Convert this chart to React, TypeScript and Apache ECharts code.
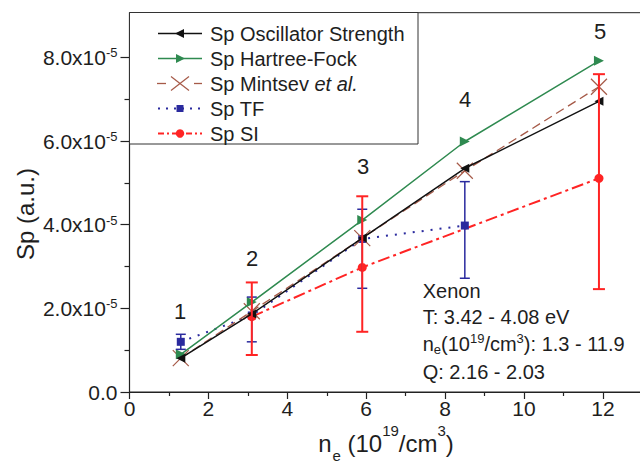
import { useEffect, useRef } from 'react';
import * as echarts from 'echarts';

// ---- data (Sp in units of 1e-5 a.u., n_e in 1e19 cm^-3) ----
const pointLabels = ['1', '2', '3', '4', '5'];
const electronDensity = [1.3, 3.1, 5.9, 8.5, 11.9];
const spOscillatorStrength = [0.81, 1.87, 3.68, 5.35, 6.95];
const spHartreeFock = [0.9, 2.15, 4.11, 5.99, 7.92];
const spMintsev = [0.81, 1.93, 3.68, 5.29, 7.3];
const spTF: (number | null)[] = [1.2, 1.83, 3.66, 3.98, null];
const spTFLow: (number | null)[] = [1.02, 1.2, 2.48, 2.72, null];
const spTFHigh: (number | null)[] = [1.38, 2.27, 4.37, 5.03, null];
const spSI: (number | null)[] = [null, 1.8, 2.98, null, 5.11];
const spSILow: (number | null)[] = [null, 0.885, 1.44, null, 2.46];
const spSIHigh: (number | null)[] = [null, 2.62, 4.68, null, 7.6];
const yMajorTicks = [0, 2, 4, 6, 8];
const yMinorTicks = [1, 3, 5, 7];
const seriesNames = ['Sp Oscillator Strength', 'Sp Hartree-Fock', 'Sp Mintsev et al.', 'Sp TF', 'Sp SI'];
const annotationLines = [
  '{m|Xenon}',
  '{m|T: 3.42 - 4.08 eV}',
  '{m|n}{sub|e}{m|(10}{sup|19}{m|/cm}{sup|3}{m|): 1.3 - 11.9}',
  '{m|Q: 2.16 - 2.03}',
];

const FONT = '"Liberation Sans", Arial, Helvetica, sans-serif';
const TEXT = '#1e1e1e';
const BLACK = '#111111';
const GREEN = '#2f8a50';
const BROWN = '#a65a48';
const BLUE = '#2a2a9e';
const RED = '#ff2424';
const Y_MAX = 9.07;
const X_MAX = 14;

const toPoints = (vals: (number | null)[]) =>
  electronDensity.map((x, i) => [x, vals[i]]).filter((p) => p[1] != null);

const errorBars = (lows: (number | null)[], highs: (number | null)[], color: string, width: number, cap: number, z: number) => ({
  type: 'custom',
  silent: true,
  z,
  xAxisIndex: 0,
  yAxisIndex: 0,
  data: electronDensity.map((x, i) => [x, lows[i], highs[i]]).filter((d) => d[1] != null),
  encode: { x: 0, y: [1, 2] },
  renderItem: (_p: any, api: any) => {
    const x = api.value(0);
    const a = api.coord([x, api.value(1)]);
    const b = api.coord([x, api.value(2)]);
    const st = { stroke: color, lineWidth: width };
    return {
      type: 'group',
      children: [
        { type: 'line', shape: { x1: a[0], y1: a[1], x2: b[0], y2: b[1] }, style: st },
        { type: 'line', shape: { x1: a[0] - cap, y1: a[1], x2: a[0] + cap, y2: a[1] }, style: st },
        { type: 'line', shape: { x1: b[0] - cap, y1: b[1], x2: b[0] + cap, y2: b[1] }, style: st },
      ],
    };
  },
});

const X_PATH = 'path://M0,0L10,10M10,0L0,10';

function buildLegend() {
  const els: any[] = [];
  const z = 100;
  els.push({ type: 'rect', z, shape: { x: 129.5, y: 12.5, width: 288.5, height: 131.5 }, style: { fill: '#fff', stroke: '#333', lineWidth: 1 } });
  const ry = (i: number) => 33.5 + 25 * i;
  const line = (y: number, color: string, w: number, dash?: number[], x1 = 158, x2 = 202) => ({
    type: 'line', z: z + 1, shape: { x1, y1: y, x2, y2: y }, style: { stroke: color, lineWidth: w, lineDash: dash },
  });
  const text = (i: number, t: string) => ({
    type: 'text', z: z + 1, x: 210, y: ry(i),
    style: {
      text: t, fontSize: 20, fontFamily: FONT, fill: TEXT, align: 'left', verticalAlign: 'middle',
      rich: {
        n: { fontSize: 20, fontFamily: FONT, fill: TEXT },
        i: { fontSize: 20, fontFamily: FONT, fill: TEXT, fontStyle: 'italic' },
      },
    },
  });
  let y = ry(0);
  els.push(line(y, BLACK, 1.5));
  els.push({ type: 'polygon', z: z + 2, shape: { points: [[175, y], [184, y - 4.5], [184, y + 4.5]] }, style: { fill: BLACK } });
  els.push(text(0, seriesNames[0]));
  y = ry(1);
  els.push(line(y, GREEN, 1.5));
  els.push({ type: 'polygon', z: z + 2, shape: { points: [[185, y], [176, y - 4.5], [176, y + 4.5]] }, style: { fill: GREEN } });
  els.push(text(1, seriesNames[1]));
  y = ry(2);
  els.push(line(y, BROWN, 1.3, undefined, 157, 166));
  els.push(line(y, BROWN, 1.3, undefined, 194, 202));
  els.push({ type: 'line', z: z + 2, shape: { x1: 171, y1: y - 7, x2: 189, y2: y + 7 }, style: { stroke: BROWN, lineWidth: 1.2 } });
  els.push({ type: 'line', z: z + 2, shape: { x1: 171, y1: y + 7, x2: 189, y2: y - 7 }, style: { stroke: BROWN, lineWidth: 1.2 } });
  els.push(text(2, '{n|Sp Mintsev }{i|et al.}'));
  y = ry(3);
  els.push(line(y, BLUE, 2, [2, 6]));
  els.push({ type: 'rect', z: z + 2, shape: { x: 176.5, y: y - 3.5, width: 7, height: 7 }, style: { fill: BLUE } });
  els.push(text(3, seriesNames[3]));
  y = ry(4);
  els.push(line(y, RED, 1.8, [6, 3, 2, 3]));
  els.push({ type: 'circle', z: z + 2, shape: { cx: 180, cy: y, r: 4.2 }, style: { fill: RED } });
  els.push(text(4, seriesNames[4]));
  return els;
}

function buildAnnotations() {
  const rich = {
    m: { fontSize: 20, fontFamily: FONT, fill: TEXT, lineHeight: 24 },
    sub: { fontSize: 13, fontFamily: FONT, fill: TEXT, lineHeight: 12, verticalAlign: 'bottom' },
    sup: { fontSize: 13, fontFamily: FONT, fill: TEXT, lineHeight: 12, verticalAlign: 'top' },
  };
  const ys = [291, 317, 344, 372];
  const els: any[] = annotationLines.map((t, i) => ({
    type: 'text', x: 422.7, y: ys[i], z: 50,
    style: { text: t, rich, align: 'left', verticalAlign: 'middle', fontFamily: FONT, fontSize: 20, fill: TEXT },
  }));
  const labelPos = [[180, 311], [252, 258], [363, 166], [465, 99], [600, 31]];
  pointLabels.forEach((l, i) => {
    els.push({
      type: 'text', x: labelPos[i][0], y: labelPos[i][1], z: 50,
      style: { text: l, fontSize: 22, fontFamily: FONT, fill: TEXT, align: 'center', verticalAlign: 'middle' },
    });
  });
  els.push({
    type: 'text', x: 25, y: 214, rotation: Math.PI / 2, z: 50,
    style: { text: 'Sp (a.u.)', fontSize: 24, fontFamily: FONT, fill: TEXT, align: 'center', verticalAlign: 'middle' },
  });
  els.push({
    type: 'text', x: 386, y: 443, z: 50,
    style: {
      text: '{m|n}{sub|e}{m| (10}{sup|19}{m|/cm}{sup|3}{m|)}',
      align: 'center', verticalAlign: 'middle', fontFamily: FONT, fontSize: 24, fill: TEXT,
      rich: {
        m: { fontSize: 24, fontFamily: FONT, fill: TEXT, lineHeight: 40 },
        sub: { fontSize: 15, fontFamily: FONT, fill: TEXT, lineHeight: 8, verticalAlign: 'bottom', padding: [0, 0, 0, 1] },
        sup: { fontSize: 15, fontFamily: FONT, fill: TEXT, lineHeight: 26, verticalAlign: 'top' },
      },
    },
  });
  return els;
}

export default function App() {
  const ref = useRef<HTMLDivElement>(null);
  useEffect(() => {
    if (!ref.current) return;
    const chart = echarts.init(ref.current, undefined, { renderer: 'svg' });
    const axisLineStyle = { color: '#222', width: 1.2 };
    const option: any = {
      animation: false,
      backgroundColor: '#fff',
      textStyle: { fontFamily: FONT },
      grid: {
        left: 129.5, top: 12.7, width: 552.3, height: 379.3,
        show: true, borderColor: '#222', borderWidth: 1,
        containLabel: false, outerBoundsMode: 'none',
      },
      xAxis: {
        type: 'value', min: 0, max: X_MAX, interval: 2,
        axisLine: { show: true, lineStyle: axisLineStyle },
        axisTick: { show: true, length: 7, lineStyle: axisLineStyle },
        minorTick: { show: true, splitNumber: 2, length: 4, lineStyle: axisLineStyle },
        axisLabel: {
          fontSize: 21, color: TEXT, fontFamily: FONT, margin: 6, showMaxLabel: false,
          formatter: (v: number) => (v >= X_MAX ? '' : String(v)),
        },
        splitLine: { show: false },
        minorSplitLine: { show: false },
      },
      yAxis: [
        {
          type: 'value', min: 0, max: Y_MAX, interval: 1,
          axisLine: { show: true, lineStyle: axisLineStyle },
          axisTick: { show: true, length: 5, lineStyle: axisLineStyle, customValues: yMinorTicks },
          axisLabel: { show: false },
          splitLine: { show: false },
        },
        {
          type: 'value', min: 0, max: Y_MAX, interval: 2, position: 'left', offset: 0,
          axisLine: { show: false },
          axisTick: { show: true, length: 9, lineStyle: axisLineStyle, customValues: yMajorTicks },
          axisLabel: {
            customValues: yMajorTicks,
            margin: 12,
            formatter: (v: number) => {
              if (Math.abs(v) < 1e-9) return '{m|0.0}';
              if (Math.abs(v / 2 - Math.round(v / 2)) > 1e-6) return '';
              return `{m|${v.toFixed(1)}x10}{s|-5}`;
            },
            rich: {
              m: { fontSize: 21, color: TEXT, fontFamily: FONT, lineHeight: 22 },
              s: { fontSize: 13, color: TEXT, fontFamily: FONT, lineHeight: 13, verticalAlign: 'top' },
            },
          },
          splitLine: { show: false },
        },
      ],
      series: [
        {
          name: seriesNames[0], type: 'line', data: toPoints(spOscillatorStrength), z: 6,
          color: BLACK, lineStyle: { color: BLACK, width: 1.5 },
          symbol: 'triangle', symbolRotate: 90, symbolSize: 9, itemStyle: { color: BLACK },
        },
        {
          name: seriesNames[1], type: 'line', data: toPoints(spHartreeFock), z: 5,
          color: GREEN, lineStyle: { color: GREEN, width: 1.5 },
          symbol: 'triangle', symbolRotate: -90, symbolSize: 10, itemStyle: { color: GREEN },
        },
        {
          name: seriesNames[2], type: 'line', data: toPoints(spMintsev), z: 4,
          color: BROWN, lineStyle: { color: BROWN, width: 1.3, type: [9, 5] },
          symbol: X_PATH, symbolSize: 16, itemStyle: { color: BROWN, borderColor: BROWN, borderWidth: 1.2 },
        },
        {
          name: seriesNames[3], type: 'line', data: toPoints(spTF), z: 3,
          color: BLUE, lineStyle: { color: BLUE, width: 2, type: [2, 7] },
          symbol: 'rect', symbolSize: 8, itemStyle: { color: BLUE },
        },
        {
          name: seriesNames[4], type: 'line', data: toPoints(spSI), z: 3,
          color: RED, lineStyle: { color: RED, width: 2, type: [12, 4, 3, 4] },
          symbol: 'circle', symbolSize: 9, itemStyle: { color: RED },
        },
        errorBars(spTFLow, spTFHigh, BLUE, 1.5, 5, 7),
        errorBars(spSILow, spSIHigh, RED, 2, 6, 8),
      ],
      graphic: [...buildLegend(), ...buildAnnotations()],
    };
    chart.setOption(option);
    return () => chart.dispose();
  }, []);
  return <div ref={ref} style={{ position: 'fixed', left: 0, top: 0, width: 640, height: 466 }} />;
}
